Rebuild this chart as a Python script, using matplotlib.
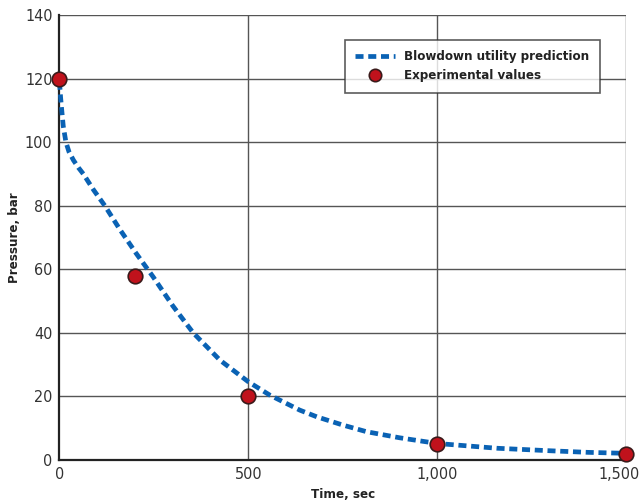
import matplotlib
matplotlib.use("Agg")
import matplotlib.pyplot as plt
from matplotlib.transforms import ScaledTranslation

plt.rcParams['font.family'] = ['DejaVu Sans']
plt.rcParams['font.stretch'] = 'condensed'

# ── Data ─────────────────────────────────────────────────────────────────────
time_pred = [0, 3, 6, 10, 17, 25, 37, 50, 63, 90, 120, 160, 203, 248, 300,
             354, 425, 500, 557, 636, 681, 750, 813, 900, 1000, 1158, 1300,
             1400, 1500]
pressure_pred = [119, 114, 110, 105, 100, 97, 94.3, 92, 90, 85, 80, 72.5, 65,
                 57.6, 48.5, 40, 31.4, 24.6, 20.4, 15.7, 13.6, 11, 8.9, 7,
                 5.2, 3.7, 2.9, 2.4, 2.1]

time_exp = [0, 200, 500, 1000, 1500]
pressure_exp = [120, 58, 20, 5, 2]

x_ticks = [0, 500, 1000, 1500]
x_ticklabels = ["0", "500", "1,000", "1,500"]
y_ticks = [0, 20, 40, 60, 80, 100, 120, 140]

# ── Plot ─────────────────────────────────────────────────────────────────────
fig = plt.figure(figsize=(6.39, 5.04), dpi=100)
ax = fig.add_axes([0.0931, 0.0873, 0.8866, 0.8830])

for y in y_ticks[1:]:
    ax.axhline(y, color="#555555", linewidth=1.0, zorder=1)
for x in x_ticks[1:]:
    ax.axvline(x, color="#555555", linewidth=1.0, zorder=1)

ax.plot(time_pred, pressure_pred, color="#0a62b4", linewidth=3.4,
        dashes=(1.7, 1.0), solid_capstyle="butt",
        label="Blowdown utility prediction", zorder=3, clip_on=False)
ax.plot(time_exp, pressure_exp, linestyle="none", marker="o", markersize=10.5,
        markerfacecolor="#c0121c", markeredgecolor="#3a1a1a", markeredgewidth=1.2,
        label="Experimental values", zorder=4, clip_on=False)

ax.set_xlim(0, 1500)
ax.set_ylim(0, 140)
ax.set_xticks(x_ticks)
ax.set_xticklabels(x_ticklabels)
ax.set_yticks(y_ticks)
ax.tick_params(length=0, labelsize=11.5, labelcolor="#333333", pad=5)

# keep the last x label inside the figure
last = ax.get_xticklabels()[-1]
last.set_transform(last.get_transform() + ScaledTranslation(-5 / 72, 0, fig.dpi_scale_trans))

for side in ["top", "right"]:
    ax.spines[side].set_visible(False)
for side in ["left", "bottom"]:
    ax.spines[side].set_linewidth(1.6)
    ax.spines[side].set_color("#222222")

ax.set_xlabel("Time, sec", fontsize=9.5, fontweight="bold", color="#222222", labelpad=4)
ax.set_ylabel("Pressure, bar", fontsize=9.5, fontweight="bold", color="#222222", labelpad=3)

leg = ax.legend(loc="upper right", bbox_to_anchor=(0.954, 0.944), fontsize=9.5,
                frameon=True, fancybox=False, edgecolor="#333333",
                handlelength=3.0, borderpad=0.8, labelspacing=0.45,
                handletextpad=0.7, borderaxespad=0, markerscale=0.85)
leg.get_frame().set_linewidth(1.2)
for t in leg.get_texts():
    t.set_fontweight("bold")
    t.set_color("#222222")

fig.savefig("out.png", dpi=100)
